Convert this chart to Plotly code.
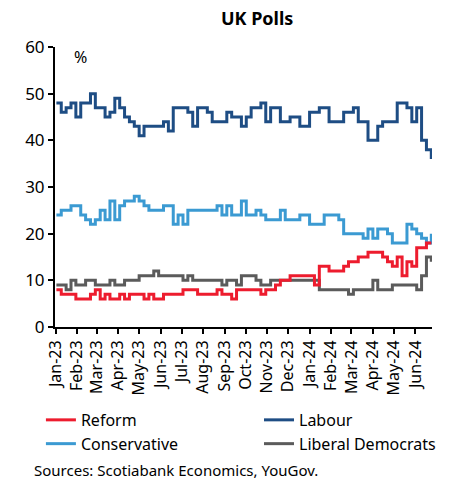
import pandas as pd
import plotly.graph_objects as go

start_date = "2023-01-02"
n_weeks = 78
dates = pd.date_range(start_date, periods=n_weeks, freq="7D")

labour = [48, 46, 47, 48, 45, 48, 48, 50, 47, 47, 45, 46, 49, 47, 45, 44, 43, 41, 43, 43,
          43, 43, 44, 42, 47, 47, 47, 46, 43, 47, 47, 46, 44, 44, 44, 46, 45, 45, 43, 45,
          47, 47, 48, 44, 47, 47, 44, 44, 45, 45, 43, 43, 46, 46, 47, 47, 44, 44, 44, 46,
          46, 47, 44, 44, 40, 40, 43, 44, 44, 44, 48, 48, 47, 44, 47, 40, 38, 36]
conservative = [24, 25, 25, 26, 26, 24, 23, 22, 23, 25, 23, 27, 23, 26, 27, 27, 28, 27, 26, 25,
                25, 25, 26, 26, 22, 24, 22, 25, 25, 25, 25, 25, 25, 26, 24, 26, 24, 24, 27, 24,
                24, 25, 24, 23, 23, 23, 25, 23, 23, 23, 24, 24, 22, 22, 22, 24, 24, 24, 23, 20,
                20, 20, 20, 19, 21, 19, 21, 21, 20, 18, 18, 18, 22, 21, 20, 19, 18, 20]
reform = [8, 7, 7, 7, 6, 6, 6, 7, 8, 6, 7, 6, 6, 7, 6, 7, 7, 7, 6, 7,
          6, 6, 7, 7, 7, 7, 8, 8, 8, 7, 7, 7, 7, 8, 7, 7, 6, 8, 8, 8,
          8, 8, 7, 8, 8, 9, 10, 10, 11, 11, 11, 11, 11, 9, 13, 13, 12, 12, 12, 13,
          14, 14, 15, 15, 16, 16, 16, 15, 14, 13, 15, 11, 14, 13, 17, 17, 18, 18]
lib_dem = [9, 9, 8, 10, 9, 9, 10, 10, 9, 9, 9, 10, 9, 9, 10, 10, 10, 11, 11, 11,
           12, 11, 11, 11, 11, 11, 10, 11, 10, 10, 10, 10, 10, 10, 9, 10, 10, 9, 11, 11,
           11, 10, 9, 9, 10, 10, 10, 10, 10, 10, 10, 10, 10, 10, 8, 8, 8, 8, 8, 8,
           7, 8, 8, 8, 8, 10, 8, 8, 8, 9, 9, 9, 9, 9, 8, 11, 15, 14]

# name, values, colour, legend rank, legend column
series = [
    ("Reform", reform, "#ED1C2E", 1, "legend"),
    ("Labour", labour, "#1E4D84", 2, "legend2"),
    ("Conservative", conservative, "#3B9AD2", 3, "legend"),
    ("Liberal Democrats", lib_dem, "#5B5B5B", 4, "legend2"),
]
draw_order = ["Conservative", "Liberal Democrats", "Labour", "Reform"]

font_family = "Noto Sans, Liberation Sans, Arial, sans-serif"

fig = go.Figure()
lookup = {s[0]: s for s in series}
for key in draw_order:
    name, vals, color, rank, leg = lookup[key]
    fig.add_trace(go.Scatter(
        x=dates, y=vals, name=name, mode="lines", legendrank=rank, legend=leg,
        line=dict(color=color, width=3, shape="hv"),
    ))

tick_vals = pd.date_range("2023-01-01", "2024-06-01", freq="MS")

legend_common = dict(orientation="v", xref="container", yref="container",
                     yanchor="top", y=0.164, xanchor="left",
                     itemwidth=30, font=dict(size=16), traceorder="normal",
                     tracegroupgap=0, bgcolor="rgba(0,0,0,0)")

fig.update_layout(
    width=465, height=482,
    margin=dict(l=55, r=33, t=47, b=155, autoexpand=False),
    paper_bgcolor="white", plot_bgcolor="white",
    font=dict(family=font_family, size=16, color="black"),
    title=dict(text="<b>UK Polls</b>", x=0.553, xref="container", xanchor="center",
               y=0.962, yref="container", yanchor="middle",
               font=dict(size=18, color="black")),
    showlegend=True,
    legend=dict(x=0.088, **legend_common),
    legend2=dict(x=0.557, **legend_common),
    xaxis=dict(
        type="date", range=["2022-12-31", "2024-06-25"],
        tickvals=tick_vals, tickformat="%b-%y", tickangle=-90,
        showline=True, linecolor="black", linewidth=2,
        ticks="outside", ticklen=5, tickwidth=2, tickcolor="black",
        showgrid=False, zeroline=False, tickfont=dict(size=16),
        automargin=False,
    ),
    yaxis=dict(
        range=[0, 60], tickvals=[0, 10, 20, 30, 40, 50, 60],
        showline=True, linecolor="black", linewidth=2,
        ticks="outside", ticklen=5, tickwidth=2, tickcolor="black",
        showgrid=False, zeroline=False, tickfont=dict(size=17),
        automargin=False,
    ),
    annotations=[
        dict(text="%", xref="paper", yref="paper", x=0.045, y=1.01,
             xanchor="left", yanchor="top", showarrow=False,
             font=dict(size=16)),
        dict(text="Sources: Scotiabank Economics, YouGov.", xref="paper", yref="paper",
             x=-0.06, y=-0.51, xanchor="left", yanchor="middle", showarrow=False,
             font=dict(size=15)),
    ],
)

fig.write_html("out.html", config={"displayModeBar": False},
               post_script="document.body.style.margin='0px';")
